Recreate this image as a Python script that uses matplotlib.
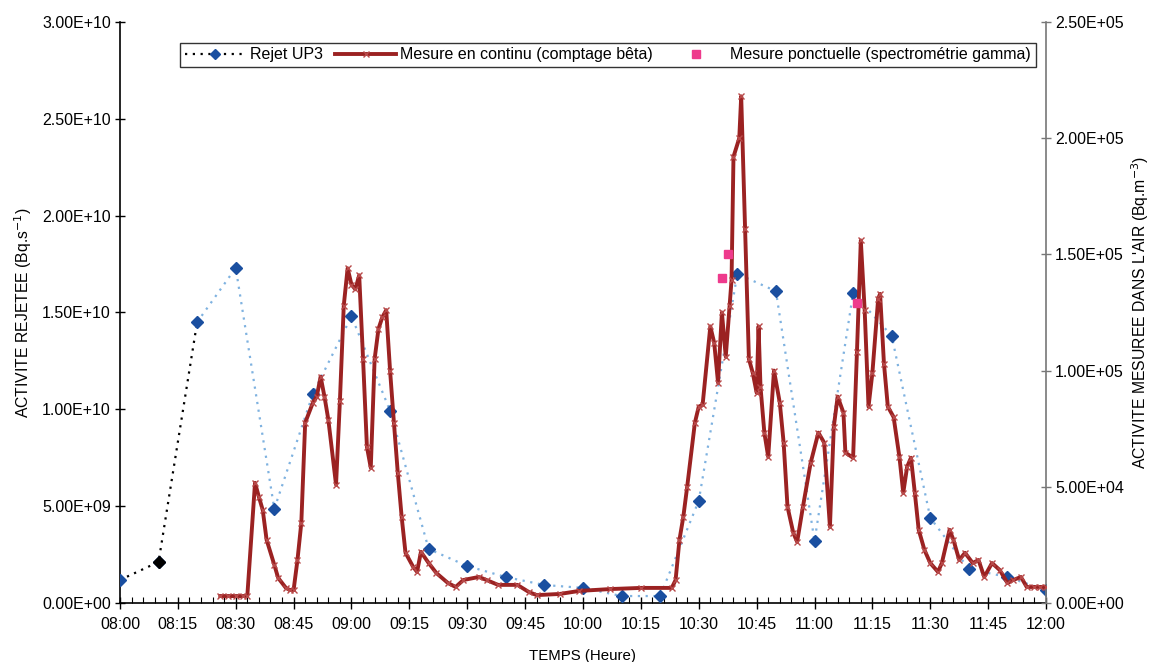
import matplotlib
matplotlib.use("Agg")
import matplotlib.pyplot as plt
from matplotlib.lines import Line2D
from matplotlib.ticker import MultipleLocator, FuncFormatter

plt.rcParams['font.family'] = ['Liberation Sans', 'DejaVu Sans']

# ---- data (minutes after 08:00) ----
rejet_t = [0, 10, 20, 30, 40, 50, 60, 70, 80, 90, 100, 110, 120, 130, 140,
           150, 160, 170, 180, 190, 200, 210, 220, 230, 240]
rejet_v = [1.19e9, 2.12e9, 1.45e10, 1.73e10, 4.86e9, 1.08e10, 1.48e10, 9.93e9,
           2.79e9, 1.91e9, 1.34e9, 9.3e8, 7.8e8, 3.6e8, 3.6e8, 5.28e9, 1.70e10,
           1.61e10, 3.2e9, 1.60e10, 1.38e10, 4.4e9, 1.76e9, 1.34e9, 6.7e8]

continu_t = [26, 28, 30, 32, 33, 35, 36, 37, 38, 40, 41, 43, 44, 45, 46, 47, 48,
             50, 51, 52, 53, 54, 56, 57, 58, 59, 60, 61, 62, 63, 64, 65, 66, 67,
             68, 69, 70, 71, 72, 73, 74, 76, 77, 78, 80, 82, 85, 87, 89, 93, 95,
             98, 103, 106, 108, 114, 119, 127, 135, 143, 144, 145, 146, 147, 149,
             150, 151, 153, 154, 155, 156, 157, 158, 158.5, 159, 160.5, 161, 162,
             163, 164, 165, 165.5, 166, 167, 168, 169.5, 171, 172, 173, 174.5,
             175.5, 177, 179, 181, 182.5, 184, 185, 186, 187.5, 188, 190, 191,
             192, 193, 194, 195, 196.5, 197, 198, 199, 200.5, 202, 203, 204, 205,
             206, 207, 208.5, 210, 212, 213, 215, 216, 217.5, 219, 221, 222.5,
             224, 226, 228, 230, 231.5, 233.5, 235, 237, 238.5, 240]
continu_v = [3.0e3, 3.0e3, 3.0e3, 3.0e3, 3.0e3, 5.17e4, 4.57e4, 4.0e4, 2.72e4,
             1.64e4, 1.08e4, 6.5e3, 5.6e3, 5.6e3, 1.85e4, 3.45e4, 7.76e4, 8.62e4,
             8.88e4, 9.74e4, 8.88e4, 7.89e4, 5.09e4, 8.7e4, 1.28e5, 1.44e5,
             1.37e5, 1.35e5, 1.41e5, 1.05e5, 6.72e4, 5.82e4, 1.05e5, 1.18e5,
             1.23e5, 1.26e5, 1.00e5, 7.76e4, 5.6e4, 3.71e4, 2.16e4, 1.55e4,
             1.34e4, 2.2e4, 1.72e4, 1.29e4, 8.6e3, 6.9e3, 9.9e3, 1.12e4, 9.9e3,
             7.8e3, 7.8e3, 4.7e3, 3.4e3, 3.9e3, 5.2e3, 6.0e3, 6.5e3, 6.5e3,
             9.9e3, 2.72e4, 3.71e4, 5.0e4, 7.76e4, 8.45e4, 8.53e4, 1.19e5,
             1.12e5, 9.48e4, 1.25e5, 1.06e5, 1.28e5, 1.39e5, 1.92e5, 2.0e5,
             2.18e5, 1.61e5, 1.05e5, 9.9e4, 9.05e4, 1.19e5, 9.31e4, 7.33e4,
             6.29e4, 1.00e5, 8.62e4, 6.9e4, 4.14e4, 3.02e4, 2.63e4, 4.14e4,
             6.03e4, 7.33e4, 6.9e4, 3.28e4, 7.59e4, 8.88e4, 8.19e4, 6.47e4,
             6.25e4, 1.08e5, 1.56e5, 1.26e5, 8.45e4, 9.9e4, 1.31e5, 1.33e5,
             1.03e5, 8.45e4, 8.0e4, 6.29e4, 4.74e4, 5.86e4, 6.25e4, 4.74e4,
             3.15e4, 2.28e4, 1.72e4, 1.34e4, 1.72e4, 3.15e4, 2.72e4, 1.85e4,
             2.16e4, 1.72e4, 1.85e4, 1.12e4, 1.72e4, 1.42e4, 8.6e3, 9.9e3,
             1.12e4, 6.9e3, 6.9e3, 6.9e3, 6.9e3]

ponct_t = [156, 157.5, 191]
ponct_v = [1.40e5, 1.50e5, 1.29e5]

xtick_pos = [0, 15, 30, 45, 60, 75, 90, 105, 120, 135, 150, 165, 180, 195, 210, 225, 240]
xtick_labels = ["08:00", "08:15", "08:30", "08:45", "09:00", "09:15", "09:30", "09:45",
                "10:00", "10:15", "10:30", "10:45", "11:00", "11:15", "11:30", "11:45", "12:00"]

# ---- figure ----
fig = plt.figure(figsize=(11.58, 6.62), dpi=100)
ax = fig.add_axes([0.1036, 0.0891, 0.7997, 0.8777])
ax2 = ax.twinx()

red = '#9b2222'
blue_line = '#7fb2e0'
blue_mk = '#1a4fa0'
pink = '#ee3a8c'

# Rejet UP3
ax.plot(rejet_t[:3], rejet_v[:3], ls=(0, (1, 2.5)), color='black', lw=1.6, zorder=2)
ax.plot(rejet_t[2:], rejet_v[2:], ls=(0, (1, 2.5)), color=blue_line, lw=1.6, zorder=2)
ax.plot(rejet_t, rejet_v, ls='none', marker='D', ms=6, color=blue_mk,
        markeredgecolor=blue_mk, zorder=3)
ax.plot(rejet_t[1:2], rejet_v[1:2], ls='none', marker='D', ms=6, color='black', zorder=4)

# Mesure en continu
ax2.plot(continu_t, continu_v, color=red, lw=2.8, marker='x', ms=5,
         markeredgecolor='#b84a4a', markeredgewidth=1.0, zorder=3)
# Mesure ponctuelle
ax2.plot(ponct_t, ponct_v, ls='none', marker='s', ms=6, color=pink, zorder=4)

ax.set_xlim(0, 240)
ax.set_ylim(0, 3.0e10)
ax2.set_ylim(0, 2.5e5)

ax.set_xticks(xtick_pos)
ax.set_xticklabels(xtick_labels)
ax.xaxis.set_minor_locator(MultipleLocator(3))
ax.yaxis.set_major_locator(MultipleLocator(5e9))
ax2.yaxis.set_major_locator(MultipleLocator(5e4))

fmt = FuncFormatter(lambda v, p: ("%.2E" % v))
ax.yaxis.set_major_formatter(fmt)
ax2.yaxis.set_major_formatter(fmt)

for a in (ax, ax2):
    a.spines['top'].set_visible(False)
ax.spines['right'].set_visible(False)
ax2.spines['left'].set_visible(False)
ax2.spines['bottom'].set_visible(False)
ax.spines['left'].set_linewidth(1.2)
ax.spines['bottom'].set_linewidth(1.2)
ax2.spines['right'].set_color('#777777')
ax2.spines['right'].set_linewidth(1.2)

ax.tick_params(axis='x', which='major', direction='inout', length=8, width=1,
               labelsize=11.5, pad=6)
ax.tick_params(axis='x', which='minor', direction='in', length=4, width=0.8)
ax.tick_params(axis='y', direction='inout', length=7, width=1, labelsize=11.5, pad=3)
ax2.tick_params(axis='y', direction='inout', length=7, width=1, labelsize=11.5,
                color='#777777', pad=3)

ax.set_xlabel("TEMPS (Heure)", fontsize=10.8, labelpad=12)
ax.set_ylabel("ACTIVITE REJETEE (Bq.s$^{-1}$)", fontsize=11.3, labelpad=6)
ax2.set_ylabel("ACTIVITE MESUREE DANS L'AIR (Bq.m$^{-3}$)", fontsize=11.3, labelpad=4)

handles = [
    Line2D([], [], ls=(0, (1, 2.5)), color='black', lw=1.6, marker='D', ms=5.5,
           markerfacecolor=blue_mk, markeredgecolor=blue_mk),
    Line2D([], [], color=red, lw=2.8, marker='x', ms=5, markeredgecolor='#b84a4a'),
    Line2D([], [], ls='none', marker='s', ms=6, color=pink),
]
labels = ["Rejet UP3", "Mesure en continu (comptage bêta)",
          "Mesure ponctuelle (spectrométrie gamma)"]
leg = fig.legend(handles, labels, loc='center', bbox_to_anchor=(0.525, 0.917),
                 ncol=3, fontsize=11.5, frameon=True, fancybox=False,
                 edgecolor='black', handlelength=3.8, columnspacing=0.8,
                 borderpad=0.3, handletextpad=0.25)
leg.get_frame().set_linewidth(1.0)

fig.savefig("out.png", dpi=100)
